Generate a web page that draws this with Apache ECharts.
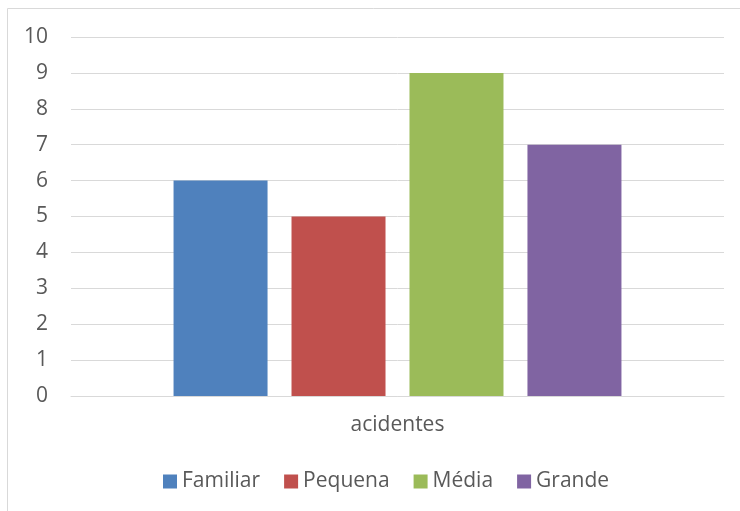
<!DOCTYPE html>
<html>
<head>
<meta charset="utf-8">
<style>
html,body{margin:0;padding:0;background:#fff;}
#chart{width:740px;height:511px;}
</style>
<script src="https://cdn.jsdelivr.net/npm/echarts@6/dist/echarts.min.js"></script>
</head>
<body>
<div id="chart"></div>
<script>
const categories = ['acidentes'];
const seriesNames = ['Familiar', 'Pequena', 'Média', 'Grande'];
const familiar = [6];
const pequena = [5];
const media = [9];
const grande = [7];
const yTicks = [0, 1, 2, 3, 4, 5, 6, 7, 8, 9, 10];

const colors = ['#4F81BD', '#C0504D', '#9BBB59', '#8064A2'];
const values = [familiar, pequena, media, grande];
const font = '"Open Sans", Lato, sans-serif';

const chart = echarts.init(document.getElementById('chart'), null, {renderer: 'canvas'});
chart.setOption({
  animation: false,
  color: colors,
  graphic: [
    {type: 'line', shape: {x1: 7.5, y1: 8.5, x2: 740, y2: 8.5}, style: {stroke: '#D9D9D9', lineWidth: 1}},
    {type: 'line', shape: {x1: 7.5, y1: 8.5, x2: 7.5, y2: 511}, style: {stroke: '#D9D9D9', lineWidth: 1}}
  ],
  grid: {left: 71, right: 16, top: 37, bottom: 115, containLabel: false},
  legend: {
    data: seriesNames,
    top: 466,
    left: 158,
    itemWidth: 14,
    itemHeight: 14,
    itemGap: 24,
    icon: 'rect',
    textStyle: {fontFamily: font, fontSize: 21, color: '#595959'}
  },
  xAxis: {
    type: 'category',
    data: categories,
    axisLine: {show: true, lineStyle: {color: '#D9D9D9', width: 1}},
    axisTick: {show: false},
    axisLabel: {fontFamily: font, fontSize: 21, color: '#595959', margin: 19}
  },
  yAxis: {
    type: 'value',
    min: yTicks[0],
    max: yTicks[yTicks.length - 1],
    interval: 1,
    axisLine: {show: false},
    axisTick: {show: false},
    splitLine: {lineStyle: {color: '#D9D9D9', width: 1}},
    axisLabel: {fontFamily: font, fontSize: 21, color: '#595959', margin: 23}
  },
  series: seriesNames.map((name, i) => ({
    name: name,
    type: 'bar',
    data: values[i],
    barWidth: 94,
    barGap: '25.5%',
    itemStyle: {color: colors[i]}
  }))
});
</script>
</body>
</html>
